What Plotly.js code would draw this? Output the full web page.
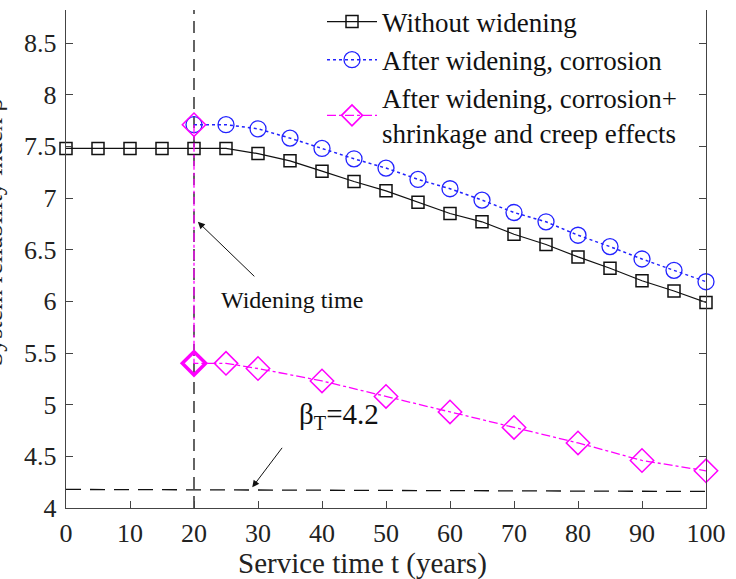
<!DOCTYPE html>
<html>
<head>
<meta charset="utf-8">
<script src="https://cdn.plot.ly/plotly-3.0.1.min.js"></script>
<style>
html,body{margin:0;padding:0;background:#fff;}
#chart{width:736px;height:579px;}
#chart text{font-family:"Liberation Serif","Times New Roman",serif !important;}
</style>
</head>
<body>
<div id="chart"></div>
<script>
// Data
const yearsBase = [0,5,10,15,20,25,30,35,40,45,50,55,60,65,70,75,80,85,90,95,100];
const betaWithout = [7.48,7.48,7.48,7.48,7.48,7.48,7.43,7.36,7.26,7.16,7.07,6.96,6.85,6.77,6.65,6.55,6.43,6.32,6.20,6.10,5.99];

const yearsCorr = [20,25,30,35,40,45,50,55,60,65,70,75,80,85,90,95,100];
const betaCorr = [7.71,7.71,7.67,7.58,7.48,7.38,7.29,7.18,7.09,6.98,6.86,6.77,6.64,6.53,6.41,6.30,6.19];

const yearsShrink = [20,20,25,30,40,50,60,70,80,90,100];
const betaShrink = [7.71,5.40,5.40,5.35,5.23,5.08,4.93,4.78,4.63,4.46,4.36];

const widenX = [20,20];
const widenY = [4,8.82];

const targetX = [0,100];
const targetY = [4.18,4.16];

const xTicks = [0,10,20,30,40,50,60,70,80,90,100];
const yTicks = [4,4.5,5,5.5,6,6.5,7,7.5,8,8.5];

const serif = 'Liberation Serif';

const traces = [
  {x: widenX, y: widenY, mode: 'lines', showlegend: false, hoverinfo: 'skip',
   line: {color: '#111', width: 1.3, dash: '12px,7px'}},
  {x: targetX, y: targetY, mode: 'lines', showlegend: false, hoverinfo: 'skip',
   line: {color: '#111', width: 1.3, dash: '15px,9px'}},
  {x: yearsBase, y: betaWithout, name: 'Without widening', mode: 'lines+markers', cliponaxis: false,
   line: {color: '#111', width: 1.2},
   marker: {symbol: 'square-open', size: 12, color: '#111', line: {width: 1.5}}},
  {x: yearsCorr, y: betaCorr, name: 'After widening, corrosion', mode: 'lines+markers', cliponaxis: false,
   line: {color: '#2222ff', width: 1.5, dash: 'dot'},
   marker: {symbol: 'circle-open', size: 16, color: '#2222ff', line: {width: 1.3}}},
  {x: yearsShrink, y: betaShrink, name: 'After widening, corrosion+<br>shrinkage and creep effects', mode: 'lines+markers', cliponaxis: false,
   line: {color: '#ff00ff', width: 1.3, dash: 'dashdot'},
   marker: {symbol: 'diamond-open', size: 18, color: '#ff00ff',
            line: {width: [1.5,3.5,1.5,1.5,1.5,1.5,1.5,1.5,1.5,1.5,1.5]}}}
];

const layout = {
  width: 736, height: 579,
  margin: {l: 66, r: 30, t: 10, b: 71, autoexpand: false},
  paper_bgcolor: '#fff', plot_bgcolor: '#fff',
  font: {family: serif, size: 26, color: '#222'},
  showlegend: true,
  legend: {x: 0.40, y: 1.025, xanchor: 'left', yanchor: 'top', bgcolor: 'rgba(0,0,0,0)',
           itemwidth: 50,
           font: {family: serif, size: 27, color: '#111'}, tracegroupgap: 0},
  xaxis: {range: [0,100], tickvals: xTicks, ticks: 'inside', ticklen: 7, tickcolor: '#444',
          showline: true, linecolor: '#444', linewidth: 1.3, showgrid: false, zeroline: false,
          ticklabelstandoff: 1},
  yaxis: {range: [4,8.82], tickvals: yTicks, ticks: 'inside', ticklen: 7, tickcolor: '#444',
          showline: true, linecolor: '#444', linewidth: 1.3, mirror: 'ticks', showgrid: false, zeroline: false,
          ticklabelstandoff: 3},
  annotations: [
    {xref: 'paper', yref: 'paper', x: -0.088, y: 0.554, xanchor: 'right', yanchor: 'middle',
     text: 'System reliability index β', textangle: -90, showarrow: false,
     font: {family: serif, size: 26, color: '#222'}},
    {xref: 'paper', yref: 'paper', x: (362-66)/640, y: (508-563)/498, xanchor: 'center', yanchor: 'middle',
     text: 'Service time t (years)', showarrow: false,
     font: {family: serif, size: 29, color: '#222'}},
    {x: 20.6, y: 6.77, ax: 58, ay: 56, text: '', showarrow: true, arrowhead: 2, arrowsize: 1.4,
     arrowwidth: 1, arrowcolor: '#111'},
    {xref: 'paper', yref: 'paper', x: (292-66)/640, y: (508-300)/498, text: 'Widening time',
     showarrow: false, font: {family: serif, size: 24, color: '#111'}},
    {x: 29.1, y: 4.2, ax: 31, ay: -41, text: '', showarrow: true, arrowhead: 2, arrowsize: 1.4,
     arrowwidth: 1, arrowcolor: '#111'},
    {xref: 'paper', yref: 'paper', x: (339-66)/640, y: (508-436)/498, text: 'β<sub>T</sub>=4.2',
     showarrow: false, font: {family: serif, size: 29, color: '#111'}}
  ]
};

Plotly.newPlot('chart', traces, layout, {displayModeBar: false, staticPlot: true});
</script>
</body>
</html>
